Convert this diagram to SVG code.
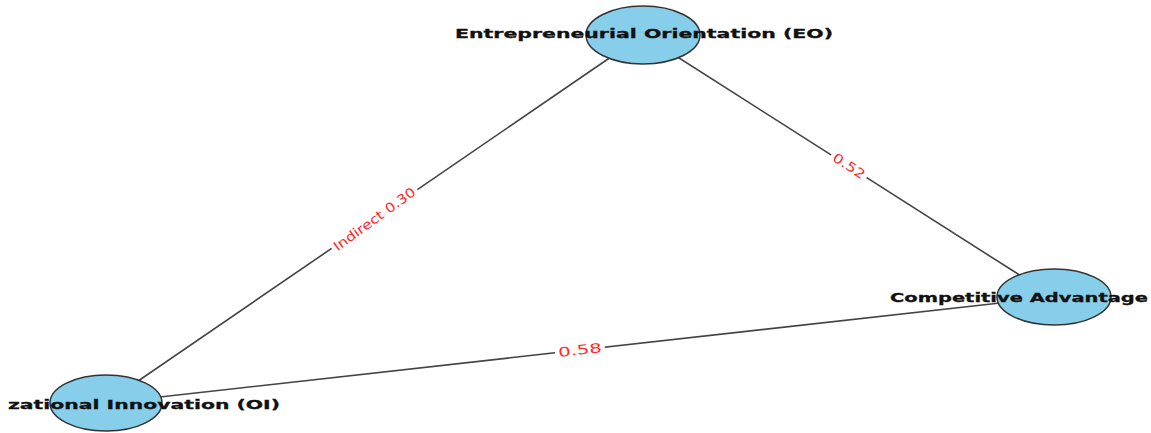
<svg xmlns="http://www.w3.org/2000/svg" width="1151" height="433" viewBox="0 0 1151 433">
  <style>
    .edge { stroke: #444; stroke-width: 1.6; fill: none; }
    .node { fill: #87ceeb; stroke: #333; stroke-width: 1.5; }
    .nlabel { font-family: "DejaVu Sans", sans-serif; font-weight: bold; font-size: 13px; fill: #111; stroke: #111; stroke-width: 0.3; dominant-baseline: central; }
    .mid { text-anchor: middle; }
    .elabel { font-family: "DejaVu Sans", sans-serif; font-size: 13px; fill: #ff2a2a; text-anchor: middle; dominant-baseline: central; }
    .lbg { fill: #fff; }
  </style>
  <rect width="1151" height="433" fill="#fff"/>
  <g id="connectors">
    <line class="edge" x1="643" y1="35" x2="106" y2="403"/>
    <line class="edge" x1="643" y1="35" x2="1054" y2="297"/>
    <line class="edge" x1="106" y1="403" x2="1054" y2="297"/>
    <g transform="translate(374.5,219) rotate(-36)">
      <rect class="lbg" x="-52" y="-8" width="104" height="16"/>
      <text class="elabel" x="0" y="0" textLength="98" lengthAdjust="spacingAndGlyphs">Indirect 0.30</text>
    </g>
    <g transform="translate(849,166) rotate(33)">
      <rect class="lbg" x="-21" y="-8" width="42" height="16"/>
      <text class="elabel" x="0" y="0" textLength="36" lengthAdjust="spacingAndGlyphs">0.52</text>
    </g>
    <g transform="translate(580,350) rotate(-6.4)">
      <rect class="lbg" x="-25" y="-8" width="50" height="16"/>
      <text class="elabel" x="0" y="0" textLength="44" lengthAdjust="spacingAndGlyphs">0.58</text>
    </g>
  </g>
  <g id="node-eo">
    <ellipse class="node" cx="643" cy="35" rx="57" ry="29"/>
    <text class="nlabel mid" x="644" y="33" textLength="378" lengthAdjust="spacingAndGlyphs">Entrepreneurial Orientation (EO)</text>
  </g>
  <g id="node-ca">
    <ellipse class="node" cx="1054" cy="297" rx="57" ry="28"/>
    <text class="nlabel" x="890" y="297" textLength="258" lengthAdjust="spacingAndGlyphs">Competitive Advantage</text>
  </g>
  <g id="node-oi">
    <ellipse class="node" cx="106" cy="403" rx="56" ry="28"/>
    <text class="nlabel" x="8" y="404" textLength="272" lengthAdjust="spacingAndGlyphs">zational Innovation (OI)</text>
  </g>
</svg>
